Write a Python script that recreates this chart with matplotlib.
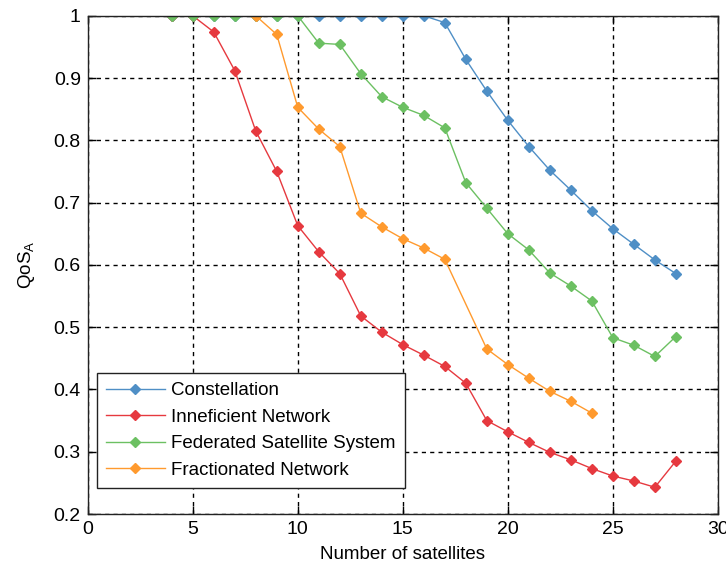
import matplotlib
matplotlib.use("Agg")
import matplotlib.pyplot as plt

plt.rcParams['font.family'] = ['Liberation Sans', 'DejaVu Sans']
plt.rcParams['mathtext.default'] = 'regular'

x_all = list(range(4, 29))
constellation = [1, 1, 1, 1, 1, 1, 1, 1, 1, 1, 1, 1, 1,
                 0.989, 0.930, 0.879, 0.832, 0.790, 0.752, 0.720,
                 0.687, 0.658, 0.633, 0.608, 0.586]
inefficient = [1, 1, 0.974, 0.912, 0.815, 0.750, 0.663, 0.621, 0.586,
               0.518, 0.492, 0.472, 0.455, 0.437, 0.410, 0.350, 0.332,
               0.315, 0.299, 0.287, 0.273, 0.261, 0.253, 0.243, 0.285]
federated = [1, 1, 1, 1, 1, 1, 1, 0.956, 0.954, 0.907, 0.870, 0.853,
             0.840, 0.820, 0.732, 0.691, 0.650, 0.624, 0.587, 0.566,
             0.542, 0.483, 0.471, 0.453, 0.485]
x_frac = [8, 9, 10, 11, 12, 13, 14, 15, 16, 17,
          19, 20, 21, 22, 23, 24]
fractionated = [1, 0.970, 0.853, 0.818, 0.790, 0.683, 0.661,
                0.642, 0.627, 0.609, 0.465, 0.440, 0.418, 0.397, 0.381,
                0.362]

labels = ['Constellation', 'Inneficient Network',
          'Federated Satellite System', 'Fractionated Network']
colors = ['#4f8fc6', '#e6393f', '#6cc062', '#ff9a2e']

fig = plt.figure(figsize=(7.26, 5.63), dpi=100)
ax = fig.add_axes([0.1208, 0.087, 0.868, 0.885])

series = [(x_all, constellation), (x_all, inefficient),
          (x_all, federated), (x_frac, fractionated)]
for (xs, ys), lab, c in zip(series, labels, colors):
    ax.plot(xs, ys, color=c, lw=1.0, marker='D', ms=4.8, mfc=c, mec=c,
            label=lab)

ax.set_xlim(0, 30)
ax.set_ylim(0.2, 1.0)
ax.set_xticks([0, 5, 10, 15, 20, 25, 30])
ax.set_yticks([0.2, 0.3, 0.4, 0.5, 0.6, 0.7, 0.8, 0.9, 1.0])
ax.set_yticklabels(['0.2', '0.3', '0.4', '0.5', '0.6', '0.7', '0.8', '0.9', '1'])
ax.grid(True, color='black', linestyle=(0, (3, 3)), linewidth=1.0)
ax.set_axisbelow(True)
ax.tick_params(direction='in', top=True, right=True, labelsize=14,
               length=6, width=1.0, colors='black', pad=5)
for s in ax.spines.values():
    s.set_linewidth(1.0)
    s.set_color('#222222')

ax.set_xlabel('Number of satellites', fontsize=13.5, labelpad=6)
ax.set_ylabel('QoS$_{A}$', fontsize=13.5, labelpad=12)

leg = ax.legend(loc='lower left', bbox_to_anchor=(0.0148, 0.052),
                borderaxespad=0, fontsize=13.5,
                fancybox=False, framealpha=1, edgecolor='#222222',
                handlelength=3.1, labelspacing=0.5, borderpad=0.5,
                handletextpad=0.35)
leg.get_frame().set_linewidth(1.0)

fig.savefig('out.png', dpi=100)
